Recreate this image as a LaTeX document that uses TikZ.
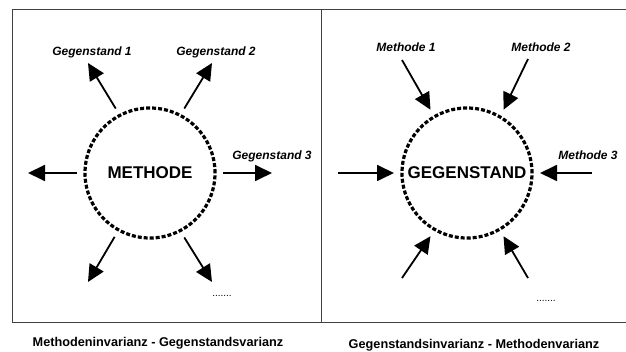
\documentclass[tikz,border=0pt]{standalone}
\usepackage{fontspec}
\setmainfont{Liberation Sans}
\usetikzlibrary{arrows.meta}

\begin{document}
\begin{tikzpicture}[x=1pt,y=-1pt,
  frame/.style={draw=black!75, line width=0.9pt},
  core/.style={circle, draw, line width=3.2pt, dash pattern=on 4pt off 2pt,
    minimum size=130pt, inner sep=0pt, outer sep=8pt,
    font=\fontsize{17}{20}\selectfont\bfseries},
  ray/.style={line width=1.8pt, -{Triangle[length=17pt,width=16pt]}},
  lbl/.style={font=\fontsize{12}{14}\selectfont\bfseries\itshape},
  dots/.style={font=\fontsize{10}{12}\selectfont},
  caption/.style={font=\fontsize{12.7}{15}\selectfont\bfseries}]
\useasboundingbox (0,0) rectangle (626,352);

\draw[frame] (626,9) -- (12,9) -- (12,322) -- (626,322);
\draw[frame] (321,9) -- (321,322);

% left panel
\node[core] (M) at (150,173) {METHODE};

\coordinate (L1) at (88,63) {};
\coordinate (L2) at (212,63) {};
\coordinate (L3) at (28,173) {};
\coordinate (L4) at (272,173) {};
\coordinate (L5) at (88,282) {};
\coordinate (L6) at (212,282) {};

\draw[ray] (M.118) -- (L1);
\draw[ray] (M.62) -- (L2);
\draw[ray] (M.180) -- (L3);
\draw[ray] (M.0) -- (L4);
\draw[ray] (M.241) -- (L5);
\draw[ray] (M.298) -- (L6);

\node[lbl] (G1) at (92,52) {Gegenstand 1};
\node[lbl] (G2) at (216,52) {Gegenstand 2};
\node[lbl] (G3) at (272,156) {Gegenstand 3};
\node[dots] (D1) at (222,296) {.......};

% right panel
\node[core] (G) at (467,173) {GEGENSTAND};

\coordinate (R1) at (402,60) {};
\coordinate (R2) at (528,59) {};
\coordinate (R3) at (338,173) {};
\coordinate (R4) at (592,173) {};
\coordinate (R5) at (402,278) {};
\coordinate (R6) at (528,278) {};

\draw[ray] (R1) -- (G.120);
\draw[ray] (R2) -- (G.60);
\draw[ray] (R3) -- (G.180);
\draw[ray] (R4) -- (G.0);
\draw[ray] (R5) -- (G.240);
\draw[ray] (R6) -- (G.300);

\node[lbl] (M1) at (406,47) {Methode 1};
\node[lbl] (M2) at (541,47) {Methode 2};
\node[lbl] (M3) at (588,155) {Methode 3};
\node[dots] (D2) at (546,301) {.......};

% captions
\node[caption] (K1) at (158,343) {Methodeninvarianz - Gegenstandsvarianz};
\node[caption] (K2) at (474,345) {Gegenstandsinvarianz - Methodenvarianz};
\end{tikzpicture}
\end{document}
